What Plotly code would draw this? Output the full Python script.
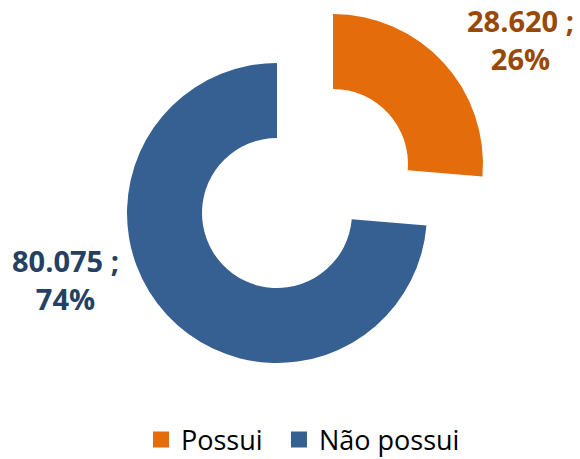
import plotly.graph_objects as go

categories = ["Possui", "Não possui"]
values = [28620, 80075]
slice_colors = ["#E46C0A", "#376092"]
label_colors = ["#984807", "#254061"]

total = sum(values)
texts = []
for v in values:
    num = f"{v:,}".replace(",", ".")
    pct = round(100 * v / total)
    texts.append(f"{num} ;<br>{pct}%")

CLEAR = "rgba(0,0,0,0)"

fig = go.Figure()

# Main ring (blue slice; slot for the exploded slice left empty)
fig.add_trace(go.Pie(
    labels=categories, values=values, sort=False, direction="clockwise", rotation=0,
    hole=0.5, marker=dict(colors=[CLEAR, slice_colors[1]], line=dict(width=0)),
    textinfo="none", showlegend=False, hoverinfo="label+value+percent",
    domain=dict(x=[0.21897, 0.73621], y=[0.20915, 0.86275]),
))
# Exploded slice (orange)
fig.add_trace(go.Pie(
    labels=categories, values=values, sort=False, direction="clockwise", rotation=0,
    hole=0.5, marker=dict(colors=[slice_colors[0], CLEAR], line=dict(width=0)),
    textinfo="none", showlegend=False, hoverinfo="label+value+percent",
    domain=dict(x=[0.31552, 0.83276], y=[0.31590, 0.96950]),
))

# Legend entries (one legend each, so spacing can match the reference)
for name, col, lg in zip(categories, slice_colors, ["legend", "legend2"]):
    fig.add_trace(go.Scatter(
        x=[None], y=[None], mode="markers", name=name, legend=lg,
        marker=dict(symbol="square", size=16, color=col),
    ))

label_pos = [(0.8966, 0.9139), (0.1121, 0.390)]
for t, c, (px, py) in zip(texts, label_colors, label_pos):
    fig.add_annotation(
        x=px, y=py, xref="paper", yref="paper", text=t, showarrow=False,
        font=dict(family="Open Sans", size=29, color=c, weight="bold"),
        align="center", xanchor="center", yanchor="middle",
    )

legend_style = dict(orientation="h", xanchor="left", y=0.0414, yanchor="middle",
                    font=dict(family="Open Sans", size=27, color="#000000"),
                    bgcolor="rgba(0,0,0,0)")

fig.update_layout(
    width=580, height=459,
    margin=dict(l=0, r=0, t=0, b=0, autoexpand=False),
    paper_bgcolor="white", plot_bgcolor="white",
    xaxis=dict(visible=False), yaxis=dict(visible=False),
    legend=dict(x=0.2431, **legend_style),
    legend2=dict(x=0.481, **legend_style),
    showlegend=True,
)

fig.write_html("out.html", config={"displayModeBar": False},
               post_script="document.body.style.margin='0';")
